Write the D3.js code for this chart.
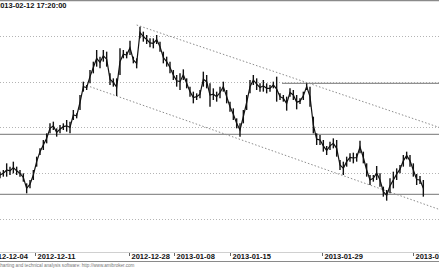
<!DOCTYPE html>
<html>
<head>
<meta charset="utf-8">
<script src="https://cdn.jsdelivr.net/npm/d3@7"></script>
<style>
  html, body { margin: 0; padding: 0; background: #fff; }
  svg { display: block; font-family: Arial, "Liberation Sans", sans-serif; }
</style>
</head>
<body>
<div class="wrapper"></div>
<script>
// bar highs / lows, one bar per slot
var highs = [154.5,155.0,157.0,156.0,157.5,156.0,155.0,154.0,151.0,152.0,
  155.0,159.0,161.5,164.0,166.0,169.0,169.5,167.5,168.5,169.0,
  170.0,169.5,173.0,172.0,177.5,181.5,180.5,185.0,187.5,191.0,
  189.0,191.0,190.5,184.0,182.5,182.5,191.5,191.0,190.5,193.8,
  189.0,188.5,198.0,196.5,195.5,194.5,194.5,195.5,193.5,190.5,
  189.0,187.5,185.0,183.5,184.0,185.2,182.5,180.0,178.5,178.0,
  179.0,184.5,183.5,181.0,179.5,178.5,180.0,181.5,179.0,175.5,
  173.5,170.5,169.0,173.0,177.5,182.0,183.5,182.5,181.0,182.0,
  181.0,180.5,181.5,183.0,178.0,177.5,177.0,179.5,179.0,177.5,
  176.5,178.5,181.0,180.0,171.0,166.0,165.5,164.0,162.2,163.5,
  164.5,164.0,158.0,157.5,159.0,160.0,160.2,160.0,163.8,160.5,
  157.0,153.5,153.5,156.2,154.0,150.0,149.0,152.5,154.5,155.5,
  156.5,159.5,160.5,159.5,157.0,153.8,153.2,152.0];
var lows = [152.5,153.0,153.0,153.5,154.0,153.5,153.0,151.5,148.0,149.5,
  152.0,156.0,159.5,161.0,163.0,166.0,167.0,165.0,166.0,167.0,
  166.5,166.0,170.0,170.5,173.0,178.5,179.0,181.0,184.0,186.0,
  185.5,187.5,186.0,180.5,180.0,177.2,183.5,188.5,188.5,189.5,
  187.0,185.5,194.5,193.5,192.8,191.8,191.5,192.8,190.5,187.0,
  186.0,184.0,182.0,180.0,179.0,182.0,179.5,177.0,175.0,176.0,
  176.5,180.0,179.5,174.0,176.0,175.5,176.5,178.5,175.0,172.5,
  170.0,167.5,165.0,169.0,173.0,178.0,180.5,179.0,178.5,178.5,
  178.0,178.5,179.5,175.5,176.0,175.5,172.8,177.0,176.0,173.2,
  174.8,176.0,179.0,174.0,166.0,162.5,162.5,160.5,159.5,161.0,
  161.5,159.0,155.0,153.5,156.0,157.5,157.0,157.5,160.0,157.0,
  153.0,150.5,151.5,152.0,150.0,147.0,145.8,148.0,149.5,152.0,
  154.0,156.0,158.2,156.0,153.0,150.5,150.8,147.0];

// date labels and the bar slot where each one sits
var tickLabels = ["2012-12-04","2012-12-11","2012-12-28","2013-01-08","2013-01-15","2013-01-29","2013-02-05"];
var tickSlots = [-3.9, 10.5, 38.7, 52.2, 69, 96.6, 123.9];

var gridLevels = [195.2, 181.5, 168.0, 154.2, 140.2];
var supportLevels = [181.0, 165.7, 147.7];
var supportStart = [84.6, 0, 0];

// trend channel end points [slot, price]
var upperChannel = [[41, 198.5], [131.7, 167.8]];
var lowerChannel = [[27, 180.0], [131.7, 143.2]];

var title = "2013-02-12 17:20:00";
var credit = "charting and technical analysis software: http://www.amibroker.com";

var width = 439,
    height = 268;

var x = d3.scaleLinear().domain([0, 131.7]).range([0, width]);
var y = d3.scaleLinear().domain([200, 140]).range([20, 220]);

var svg = d3.select(".wrapper").append("svg")
    .attr("width", width)
    .attr("height", height);

// frame top
svg.append("line")
    .attr("x1", 0).attr("x2", width).attr("y1", 0.5).attr("y2", 0.5)
    .attr("stroke", "#8a8a8a").attr("stroke-width", 1.5);

// dotted grid
svg.selectAll(".grid")
    .data(gridLevels)
  .enter().append("line")
    .attr("class", "grid")
    .attr("x1", 0).attr("x2", width)
    .attr("y1", function(d) { return Math.round(y(d)) + 0.5; })
    .attr("y2", function(d) { return Math.round(y(d)) + 0.5; })
    .attr("stroke", "#b4b4b4")
    .attr("stroke-dasharray", "1,2");

// horizontal support / resistance
svg.selectAll(".level")
    .data(supportLevels)
  .enter().append("line")
    .attr("class", "level")
    .attr("x1", function(d, i) { return x(supportStart[i]); })
    .attr("x2", width)
    .attr("y1", function(d) { return y(d); })
    .attr("y2", function(d) { return y(d); })
    .attr("stroke", "#909090")
    .attr("stroke-width", 1.3);

// channel
var chLine = d3.line()
    .x(function(d) { return x(d[0]); })
    .y(function(d) { return y(d[1]); });

[upperChannel, lowerChannel].forEach(function(c) {
  svg.append("path")
      .attr("d", chLine(c))
      .attr("fill", "none")
      .attr("stroke", "#8c8c8c")
      .attr("stroke-width", 1)
      .attr("stroke-dasharray", "1.5,2");
});

// price
var bars = highs.map(function(h, i) { return {i: i, h: h, l: lows[i]}; });

svg.append("path")
    .attr("d", d3.line()
        .x(function(d) { return x(d.i); })
        .y(function(d) { return y((d.h + d.l) / 2); })(bars))
    .attr("fill", "none")
    .attr("stroke", "#111")
    .attr("stroke-width", 1.2);

svg.selectAll(".bar")
    .data(bars)
  .enter().append("line")
    .attr("class", "bar")
    .attr("x1", function(d) { return x(d.i); })
    .attr("x2", function(d) { return x(d.i); })
    .attr("y1", function(d) { return y(d.h); })
    .attr("y2", function(d) { return y(d.l); })
    .attr("stroke", "#111")
    .attr("stroke-width", 1.4);

// title
svg.append("text")
    .attr("x", -4).attr("y", 7.5)
    .attr("font-size", 7.5)
    .attr("font-weight", "bold")
    .attr("fill", "#111")
    .text(title);

// date strip
svg.append("line")
    .attr("x1", 0).attr("x2", width).attr("y1", 252.5).attr("y2", 252.5)
    .attr("stroke", "#d0d0d0");
svg.append("line")
    .attr("x1", 0).attr("x2", width).attr("y1", 261.5).attr("y2", 261.5)
    .attr("stroke", "#8a8a8a").attr("stroke-width", 1.2);

var axis = d3.axisBottom(x)
    .tickValues(tickSlots)
    .tickFormat(function(d, i) { return tickLabels[i]; })
    .tickSize(3)
    .tickSizeOuter(0);

var gx = svg.append("g")
    .attr("transform", "translate(0,253)")
    .call(axis);
gx.select(".domain").remove();
gx.selectAll(".tick line").attr("stroke", "#666");
gx.selectAll(".tick text")
    .attr("text-anchor", "start")
    .attr("x", 2).attr("y", 0).attr("dy", "0.78em")
    .attr("font-size", 7.5)
    .attr("font-weight", "bold")
    .attr("font-family", "Arial, 'Liberation Sans', sans-serif")
    .attr("fill", "#111");

svg.append("text")
    .attr("x", -2).attr("y", 266.5)
    .attr("font-size", 4.6)
    .attr("fill", "#777")
    .text(credit);
</script>
</body>
</html>
